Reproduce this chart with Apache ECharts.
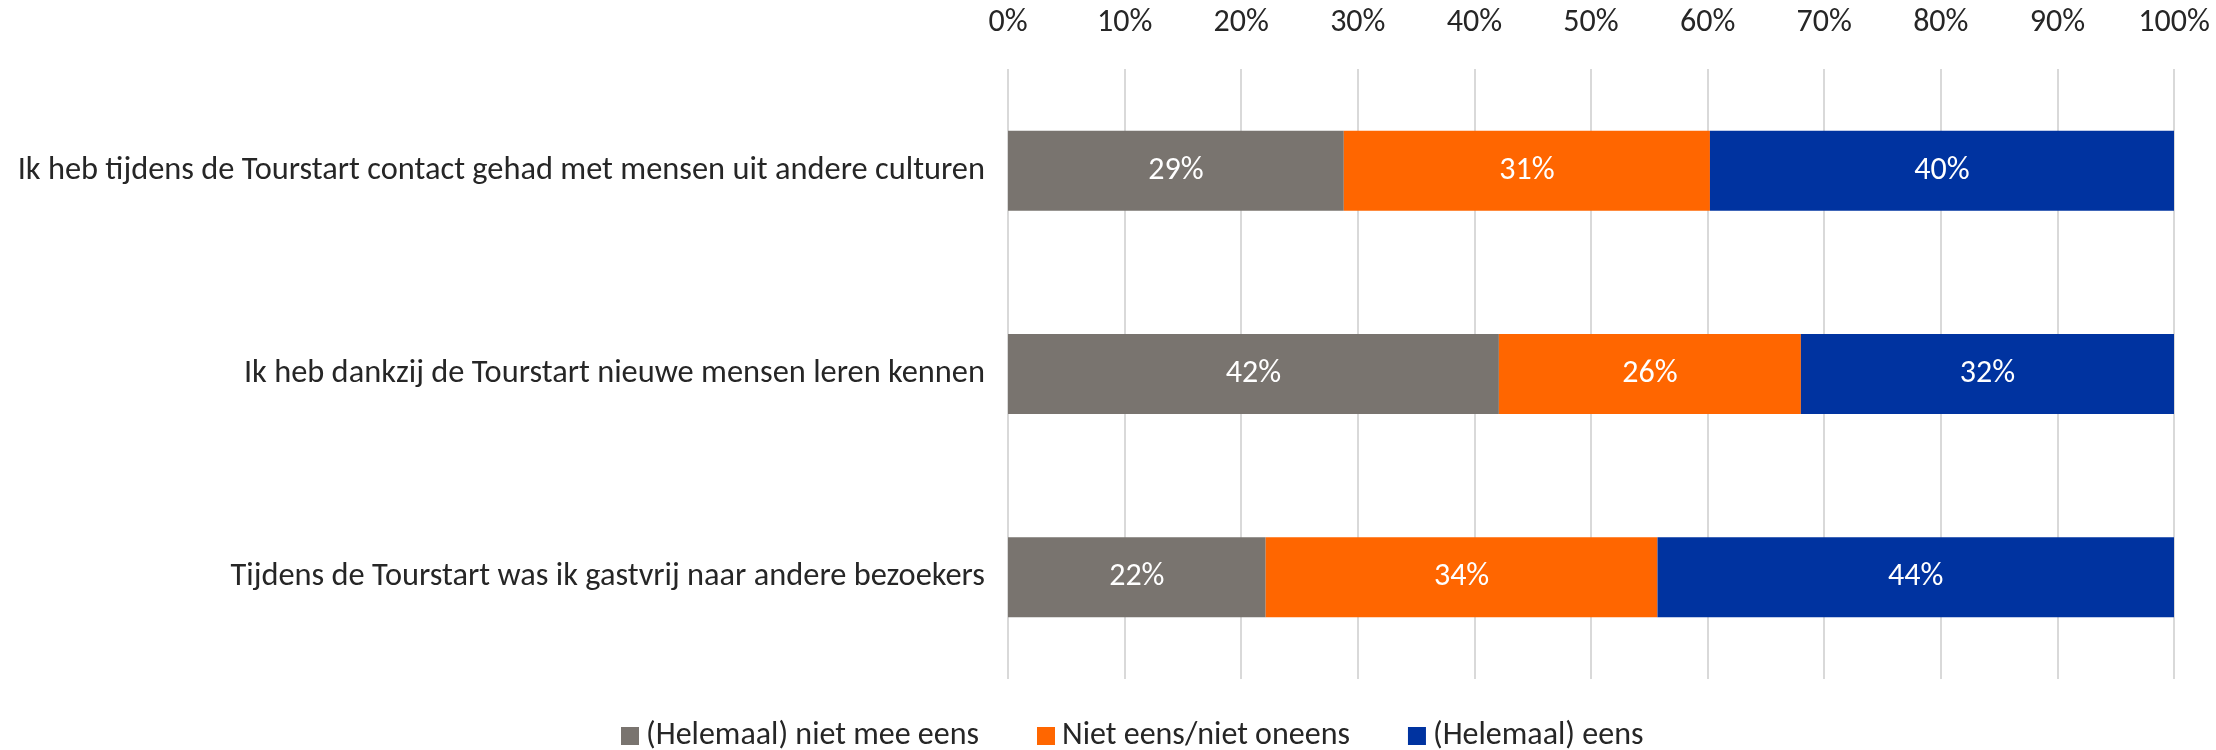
<!DOCTYPE html>
<html>
<head>
<meta charset="utf-8">
<script src="https://cdn.jsdelivr.net/npm/echarts@6/dist/echarts.min.js"></script>
<style>
  html, body { margin: 0; padding: 0; background: #fff; }
  #container { width: 2216px; height: 750px; }
</style>
</head>
<body>
<div id="container"></div>
<script>
// stellingen (van boven naar onder)
const stellingen = [
  'Ik heb tijdens de Tourstart contact gehad met mensen uit andere culturen',
  'Ik heb dankzij de Tourstart nieuwe mensen leren kennen',
  'Tijdens de Tourstart was ik gastvrij naar andere bezoekers'
]
const reeksNamen = ['(Helemaal) niet mee eens', 'Niet eens/niet oneens', '(Helemaal) eens']
// percentages per stelling
const nietEens = [28.8, 42.1, 22.1]
const neutraal = [31.4, 25.9, 33.6]
const eens = [39.8, 32.0, 44.3]
const tickLabels = ['0%', '10%', '20%', '30%', '40%', '50%', '60%', '70%', '80%', '90%', '100%']

const kleuren = ['#79746F', '#FF6600', '#0033A0']
const font = 'Carlito, Lato, sans-serif'

let instance = echarts.init(document.getElementById('container'))

function reeks(naam, data, kleur) {
  return {
    name: naam,
    type: 'bar',
    stack: 'totaal',
    barWidth: 80,
    data: data,
    itemStyle: { color: kleur },
    label: {
      show: true,
      position: 'inside',
      color: '#fff',
      fontFamily: font,
      fontSize: 32,
      formatter: p => Math.round(p.value) + '%'
    }
  }
}

instance.setOption({
  animation: false,
  textStyle: { fontFamily: font },
  legend: {
    bottom: -7,
    left: 616,
    icon: 'rect',
    itemWidth: 18,
    itemHeight: 18,
    itemGap: 58,
    textStyle: { fontFamily: font, fontSize: 32, color: '#262626', padding: [0, 0, 0, 2] },
    data: reeksNamen
  },
  grid: {
    left: 1008,
    right: 42,
    top: 69,
    height: 610,
    outerBoundsMode: 'none'
  },
  xAxis: {
    type: 'value',
    position: 'top',
    min: 0,
    max: 100,
    interval: 10,
    axisLine: { show: false },
    axisTick: { show: false },
    splitLine: { lineStyle: { color: '#D9D9D9', width: 2 } },
    axisLabel: {
      margin: 30,
      fontFamily: font,
      fontSize: 32,
      color: '#262626',
      formatter: v => tickLabels[v / 10]
    }
  },
  yAxis: {
    type: 'category',
    inverse: true,
    data: stellingen,
    axisLine: { show: false },
    axisTick: { show: false },
    axisLabel: {
      margin: 23,
      fontFamily: font,
      fontSize: 32.4,
      color: '#262626'
    }
  },
  series: [
    reeks(reeksNamen[0], nietEens, kleuren[0]),
    reeks(reeksNamen[1], neutraal, kleuren[1]),
    reeks(reeksNamen[2], eens, kleuren[2])
  ]
})
</script>
</body>
</html>
